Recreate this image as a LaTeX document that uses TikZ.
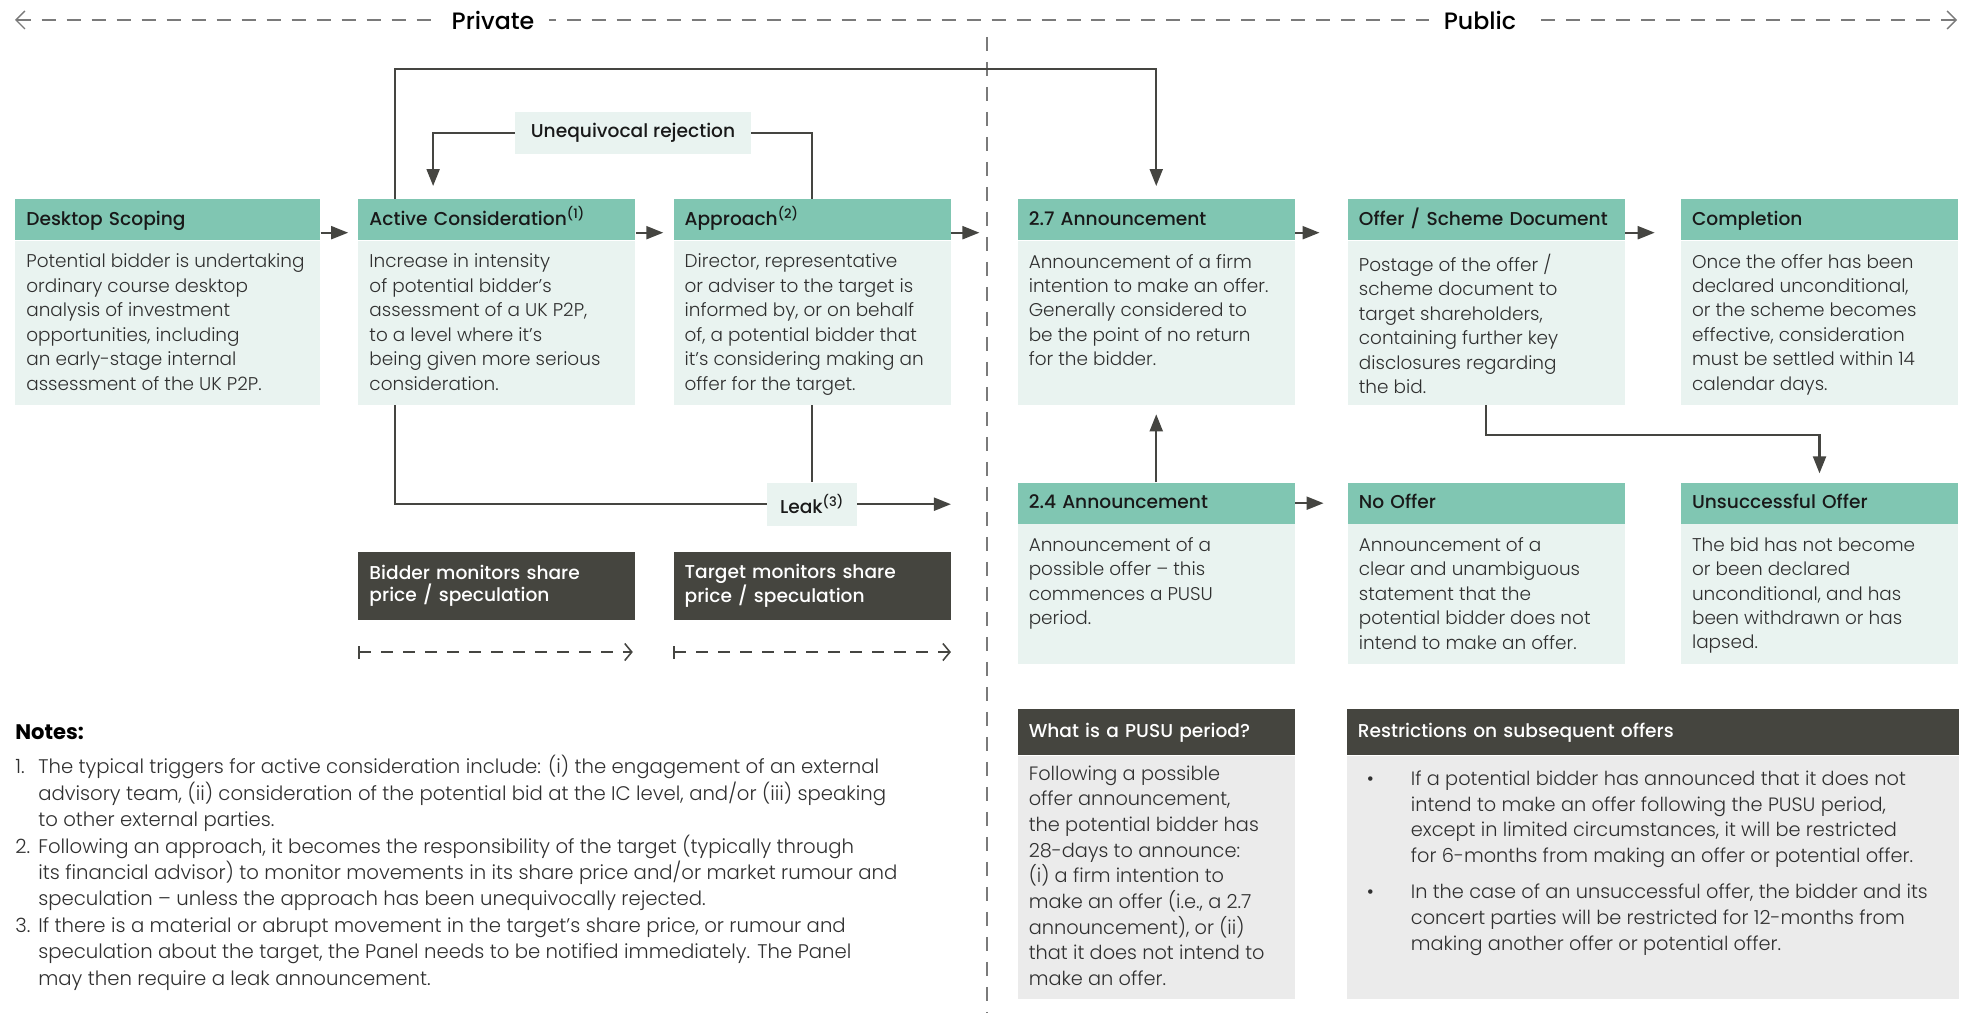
\documentclass[tikz,border=0pt]{standalone}
\usepackage{fontspec}
\setmainfont{Poppins}[UprightFont={* Light}, BoldFont={* Medium}]
\newfontface\heavyface{Poppins Bold}
\usepackage{tikz}
\usetikzlibrary{
  arrows.meta,
  positioning,
  calc
}
\definecolor{headgreen}{HTML}{80C6B2}
\definecolor{bodygreen}{HTML}{E9F3F0}
\definecolor{darkbox}{HTML}{45453F}
\definecolor{lightbox}{HTML}{EBEBEB}
\definecolor{linegrey}{HTML}{454541}
\definecolor{dashgrey}{HTML}{7A7A7A}
\definecolor{textgrey}{HTML}{303030}
\newcommand{\headfont}{\fontsize{10.6}{12.5}\selectfont\bfseries}
\newcommand{\bodyfont}{\fontsize{10.5}{13.9}\selectfont}
\newcommand{\infofont}{\fontsize{11}{14.6}\selectfont}
\newcommand{\sidefont}{\fontsize{13.5}{15}\selectfont\bfseries}
\newcommand{\notefont}{\fontsize{11.2}{15.05}\selectfont}
\newcommand{\boxtext}[3]{\parbox[t][#2][t]{#1}{\raggedright #3}}
\newcommand{\supnote}[1]{\textsuperscript{(#1)}}
\newcommand{\bulletitem}[1]{%
  \hspace*{0.18cm}\makebox[0.88cm][l]{\textbullet}\parbox[t]{10.6cm}{#1}}
\tikzset{
  stagehead/.style={
    rectangle, fill=headgreen, text width=#1, inner xsep=0.22cm,
    minimum height=0.82cm, text height=1.6ex, text depth=0.5ex,
    align=left, font=\headfont, text=black!90
  },
  stagehead/.default=5.1cm,
  stagebody/.style={
    rectangle, fill=bodygreen, inner xsep=0.22cm, inner ysep=0.26cm,
    font=\bodyfont, text=textgrey
  },
  infohead/.style={
    rectangle, fill=darkbox, text width=#1, inner xsep=0.22cm,
    minimum height=0.92cm, text height=1.6ex, text depth=0.5ex,
    align=left, font=\headfont, text=white
  },
  infohead/.default=5.1cm,
  infobody/.style={
    rectangle, fill=lightbox, inner xsep=0.22cm, inner ysep=0.2cm,
    font=\infofont, text=textgrey
  },
  monitorbox/.style={
    rectangle, fill=darkbox, text width=5.1cm, inner xsep=0.22cm,
    minimum height=1.36cm, align=left, font=\headfont, text=white
  },
  tagbox/.style={
    rectangle, fill=bodygreen, minimum height=0.86cm,
    font=\headfont, text=black!90
  },
  flow/.style={
    draw=linegrey, line width=1.2pt, -{Triangle[length=0.34cm,width=0.26cm]}
  },
  flowline/.style={draw=linegrey, line width=1.2pt},
  period/.style={
    draw=linegrey, line width=0.9pt, dash pattern=on 0.24cm off 0.2cm,
    {Bar[width=0.26cm]}-{Straight Barb[length=0.14cm,width=0.34cm]}
  },
  divider/.style={
    draw=dashgrey, line width=0.8pt, dash pattern=on 0.28cm off 0.22cm
  },
  sidelabel/.style={fill=white, inner xsep=0.3cm, font=\sidefont, text=black},
}

\begin{document}
\begin{tikzpicture}[x=0.02cm, y=-0.02cm]
  \useasboundingbox (0,0) rectangle (1973,1013);

  % private / public split
  \coordinate (lend) at (15,20);
  \coordinate (rend) at (1957,20);
  \coordinate (dtop) at (987,37);
  \coordinate (dbot) at (987,1013);
  \draw[divider, {Straight Barb[length=0.18cm,width=0.36cm]}-{Straight Barb[length=0.18cm,width=0.36cm]}]
    (lend) -- (rend);
  \draw[divider] (dtop) -- (dbot);
  \node[sidelabel] (priv) at (493,20) {Private};
  \node[sidelabel] (pub) at (1480,20) {Public};

  % top row of stages
  \node[stagehead=5.66cm, anchor=north west] (ds) at (15,199) {Desktop Scoping};
  \node[stagehead, right=0.75cm of ds] (ac) {Active Consideration\supnote{1}};
  \node[stagehead, right=0.75cm of ac] (ap) {Approach\supnote{2}};
  \node[stagehead, right=1.33cm of ap] (t27) {2.7 Announcement};
  \node[stagehead, right=1.05cm of t27] (of) {Offer / Scheme Document};
  \node[stagehead, right=1.11cm of of] (cp) {Completion};

  \node[stagebody, below=0pt of ds] (dsb) {\boxtext{5.66cm}{2.76cm}{%
    Potential bidder is undertaking\\ordinary course desktop\\analysis of investment\\%
    opportunities, including\\an early-stage internal\\assessment of the UK P2P.}};
  \node[stagebody, below=0pt of ac] (acb) {\boxtext{5.1cm}{2.76cm}{%
    Increase in intensity\\of potential bidder's\\assessment of a UK P2P,\\%
    to a level where it's\\being given more serious\\consideration.}};
  \node[stagebody, below=0pt of ap] (apb) {\boxtext{5.1cm}{2.76cm}{%
    Director, representative\\or adviser to the target is\\informed by, or on behalf\\%
    of, a potential bidder that\\it's considering making an\\offer for the target.}};
  \node[stagebody, below=0pt of t27] (t27b) {\boxtext{5.1cm}{2.76cm}{%
    Announcement of a firm\\intention to make an offer.\\Generally considered to\\%
    be the point of no return\\for the bidder.}};
  \node[stagebody, below=0pt of of] (ofb) {\boxtext{5.1cm}{2.76cm}{%
    Postage of the offer /\\scheme document to\\target shareholders,\\%
    containing further key\\disclosures regarding\\the bid.}};
  \node[stagebody, below=0pt of cp] (cpb) {\boxtext{5.1cm}{2.76cm}{%
    Once the offer has been\\declared unconditional,\\or the scheme becomes\\%
    effective, consideration\\must be settled within 14\\calendar days.}};

  % second row (public outcomes)
  \node[stagehead, below=1.54cm of t27b] (t24) {2.4 Announcement};
  \node[stagehead, below=1.54cm of ofb] (no) {No Offer};
  \node[stagehead, below=1.54cm of cpb] (un) {Unsuccessful Offer};
  \node[stagebody, below=0pt of t24] (t24b) {\boxtext{5.1cm}{2.28cm}{%
    Announcement of a\\possible offer -- this\\commences a PUSU\\period.}};
  \node[stagebody, below=0pt of no] (nob) {\boxtext{5.1cm}{2.28cm}{%
    Announcement of a\\clear and unambiguous\\statement that the\\%
    potential bidder does not\\intend to make an offer.}};
  \node[stagebody, below=0pt of un] (unb) {\boxtext{5.1cm}{2.28cm}{%
    The bid has not become\\or been declared\\unconditional, and has\\%
    been withdrawn or has\\lapsed.}};

  % monitoring periods
  \node[monitorbox, below=2.92cm of acb] (bm) {Bidder monitors share\\price / speculation};
  \node[monitorbox, below=2.92cm of apb] (tm) {Target monitors share\\price / speculation};
  \draw[period] ([yshift=-0.64cm]bm.south west) -- ([yshift=-0.64cm,xshift=-0.06cm]bm.south east);
  \draw[period] ([yshift=-0.64cm]tm.south west) -- ([yshift=-0.64cm]tm.south east);

  % info panels
  \node[infohead, below=0.88cm of t24b] (pusu) {What is a PUSU period?};
  \node[infobody, below=0pt of pusu] (pusub) {\boxtext{5.1cm}{4.46cm}{%
    Following a possible\\offer announcement,\\the potential bidder has\\%
    28-days to announce:\\(i) a firm intention to\\make an offer (i.e., a 2.7\\%
    announcement), or (ii)\\that it does not intend to\\make an offer.}};
  \node[infohead=11.8cm, right=1.03cm of pusu] (rest) {Restrictions on subsequent offers};
  \node[infobody, below=0pt of rest] (restb) {\boxtext{11.8cm}{4.46cm}{%
    \vspace*{0.1cm}%
    \bulletitem{If a potential bidder has announced that it does not\\%
      intend to make an offer following the PUSU period,\\%
      except in limited circumstances, it will be restricted\\%
      for 6-months from making an offer or potential offer.}\par\vspace{0.3cm}%
    \bulletitem{In the case of an unsuccessful offer, the bidder and its\\%
      concert parties will be restricted for 12-months from\\%
      making another offer or potential offer.}}};

  % labels on the loops
  \node[tagbox, minimum width=4.72cm] (rej) at (633,133) {Unequivocal rejection};
  \node[tagbox, minimum width=1.8cm, below=1.54cm of apb] (leak) {Leak\supnote{3}};

  % connectors
  \draw[flow] ([yshift=0.16cm]ds.south east) -- ([yshift=0.16cm,xshift=-0.2cm]ac.south west);
  \draw[flow] ([yshift=0.16cm]ac.south east) -- ([yshift=0.16cm,xshift=-0.2cm]ap.south west);
  \draw[flow] ([yshift=0.16cm]ap.south east) -- ([yshift=0.16cm,xshift=-0.76cm]t27.south west);
  \draw[flow] ([yshift=0.16cm]t27.south east) -- ([yshift=0.16cm,xshift=-0.56cm]of.south west);
  \draw[flow] ([yshift=0.16cm]of.south east) -- ([yshift=0.16cm,xshift=-0.52cm]cp.south west);
  \draw[flow] (t24.east) -- ([xshift=-0.48cm]no.west);
  \draw[flow] (t24.north) -- ([yshift=-0.18cm]t27b.south);
  \draw[flow] (ofb.south) -- ++(0,30) -| ([yshift=0.18cm]un.north);

  \draw[flow] ([xshift=0.74cm]ac.north west) -- ++(0,-130) -| ([yshift=0.26cm]t27.north);
  \draw[flowline] (ap.north) |- (rej.east);
  \draw[flow] (rej.west) -| ([xshift=1.5cm,yshift=0.26cm]ac.north west);
  \draw[flowline] ([xshift=0.74cm]acb.south west) |- (leak.west);
  \draw[flowline] (apb.south) -- (leak.north);
  \draw[flow] (leak.east) -- (leak.east -| apb.east);

  % footnotes
  \node[anchor=base west, inner sep=0pt, font=\fontsize{12}{14}\heavyface]
    (notehead) at (15,739) {Notes:};
  \node[anchor=north west, inner sep=0pt, align=left, font=\notefont, text=textgrey]
    (notelist) at (15,755) {%
    \makebox[0.46cm][l]{1.}The typical triggers for active consideration include: (i) the engagement of an external\\
    \hspace*{0.46cm}advisory team, (ii) consideration of the potential bid at the IC level, and/or (iii) speaking\\
    \hspace*{0.46cm}to other external parties.\\
    \makebox[0.46cm][l]{2.}Following an approach, it becomes the responsibility of the target (typically through\\
    \hspace*{0.46cm}its financial advisor) to monitor movements in its share price and/or market rumour and\\
    \hspace*{0.46cm}speculation -- unless the approach has been unequivocally rejected.\\
    \makebox[0.46cm][l]{3.}If there is a material or abrupt movement in the target's share price, or rumour and\\
    \hspace*{0.46cm}speculation about the target, the Panel needs to be notified immediately. The Panel\\
    \hspace*{0.46cm}may then require a leak announcement.};
\end{tikzpicture}
\end{document}
